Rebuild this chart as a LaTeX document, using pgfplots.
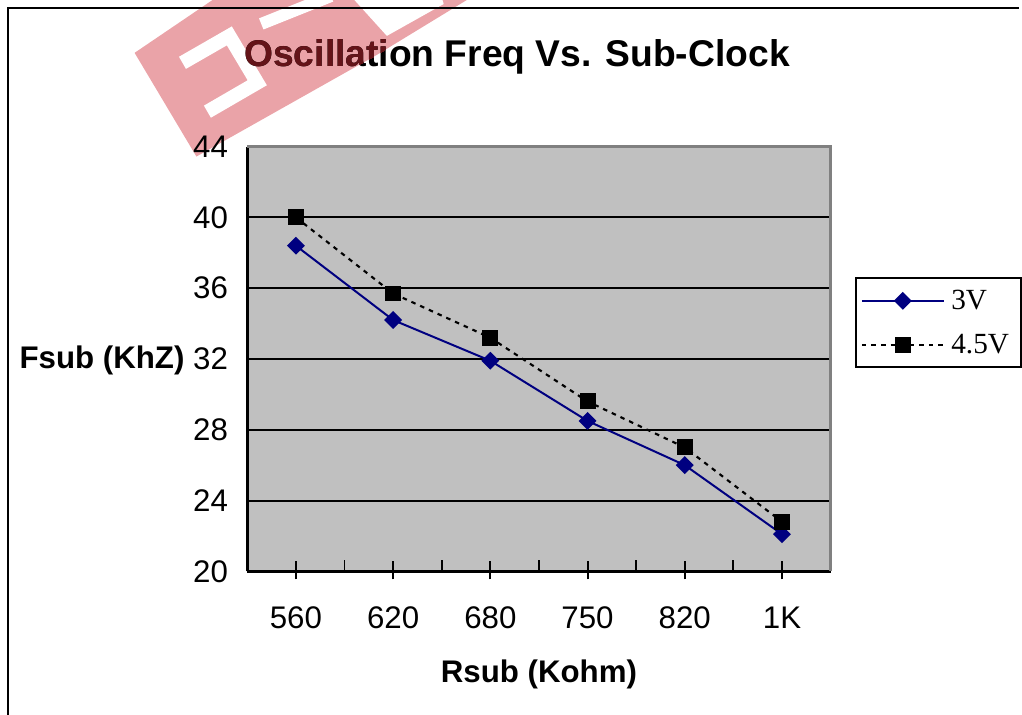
\documentclass[border=0pt]{standalone}
\usepackage{pgfplots}
\pgfplotsset{compat=1.18}
\usepackage{fontspec}
\setmainfont{Liberation Sans}
\newfontfamily\seriffont{Liberation Serif}
\definecolor{navy}{RGB}{0,0,128}
\definecolor{plotbg}{RGB}{192,192,192}
\definecolor{bordergray}{RGB}{128,128,128}
\definecolor{wm}{RGB}{234,163,168}
\definecolor{wmdark}{RGB}{100,20,25}

\begin{document}
\begin{tikzpicture}
\begin{scope}[x=0.75pt,y=-0.75pt]
\useasboundingbox (0,0) rectangle (1022,717);
\begin{scope}
\clip (0,0) rectangle (1022,717);
% watermark (approximate)
\fill[wm] (135,53) -- (197,157) -- (378,55) -- (478,-6) -- (222,-6) -- cycle;
\fill[white] (350,-6) -- (388,36) -- (445,4) -- (442,-6) -- cycle;
\draw[white,line width=10.5pt,line join=miter] (183,63) -- (230,36) -- (258,83) -- (208,112);
\draw[white,line width=9pt] (262,24) -- (332,-4);
\end{scope}
\draw[line width=1.5pt] (8,717) -- (8,8) -- (1022,8);
\node[anchor=base, inner sep=0pt] at (518.5,67) {\bfseries\fontsize{28}{34}\selectfont Oscillation Freq Vs. Sub-Clock};
\begin{scope}
\clip (135,53) -- (197,157) -- (378,55) -- (478,-6) -- (222,-6) -- cycle;
\node[anchor=base, inner sep=0pt, text=wmdark] at (518.5,67) {\bfseries\fontsize{28}{34}\selectfont Oscillation Freq Vs. Sub-Clock};
\end{scope}
\end{scope}

\begin{axis}[
  at={(186pt,-429.75pt)}, anchor=south west,
  scale only axis, width=438.75pt, height=319.5pt,
  xmin=-0.5, xmax=5.5, ymin=20, ymax=44,
  axis lines*=left,
  axis line style={-, black, line width=2pt},
  axis background/.style={fill=plotbg},
  ymajorgrids,
  major grid style={black, line width=1.5pt},
  xtick={0,...,5},
  xticklabels={560,620,680,750,820,1K},
  minor xtick={0.5,1.5,2.5,3.5,4.5},
  ytick={20,24,...,44},
  tick align=inside,
  major tick length=7.5pt,
  minor tick length=8.25pt,
  tick style={black, line width=1.5pt},
  extra x ticks={0,...,5},
  extra x tick labels={},
  extra x tick style={tick align=outside, major tick length=6pt},
  tick label style={font=\fontsize{23.5}{28}\selectfont},
  /pgf/number format/assume math mode=true,
  xticklabel style={yshift=-23pt},
  yticklabel style={xshift=-11pt},
  xlabel={Rsub (Kohm)},
  xlabel style={font=\bfseries\fontsize{23.5}{28}\selectfont, at={(axis description cs:0.5,-0.2606)}, anchor=base},
  ylabel={Fsub (KhZ)},
  ylabel style={font=\bfseries\fontsize{23.5}{28}\selectfont, rotate=-90, at={(axis description cs:-0.3983,0.4765)}, anchor=base west},
  legend style={at={(axis description cs:1.041,0.6925)}, anchor=north west, draw=black, line width=1.5pt,
    font=\seriffont\fontsize{22}{26}\selectfont, row sep=13pt, inner xsep=4pt, inner ysep=7pt,
    nodes={inner xsep=5pt}},
  legend cell align=left,
  legend image code/.code={\draw[mark repeat=2,mark phase=2,#1] plot coordinates {(0pt,0pt) (30.75pt,0pt) (61.5pt,0pt)};},
  after end axis/.code={\draw[bordergray, line width=2.25pt] (rel axis cs:0,1) -- (rel axis cs:1,1) -- (rel axis cs:1,0);},
]
\addplot[navy, line width=1.5pt, mark=square*, mark size=4pt, mark options={rotate=45, solid}]
  coordinates {(0,38.4)(1,34.2)(2,31.9)(3,28.5)(4,26.0)(5,22.1)};
\addlegendentry{3V}
\addplot[black, line width=1.6pt, dash pattern=on 3.4pt off 3.8pt, mark=square*, mark size=5.2pt, mark options={solid}]
  coordinates {(0,40.0)(1,35.7)(2,33.2)(3,29.6)(4,27.0)(5,22.8)};
\addlegendentry{4.5V}
\end{axis}
\end{tikzpicture}
\end{document}
